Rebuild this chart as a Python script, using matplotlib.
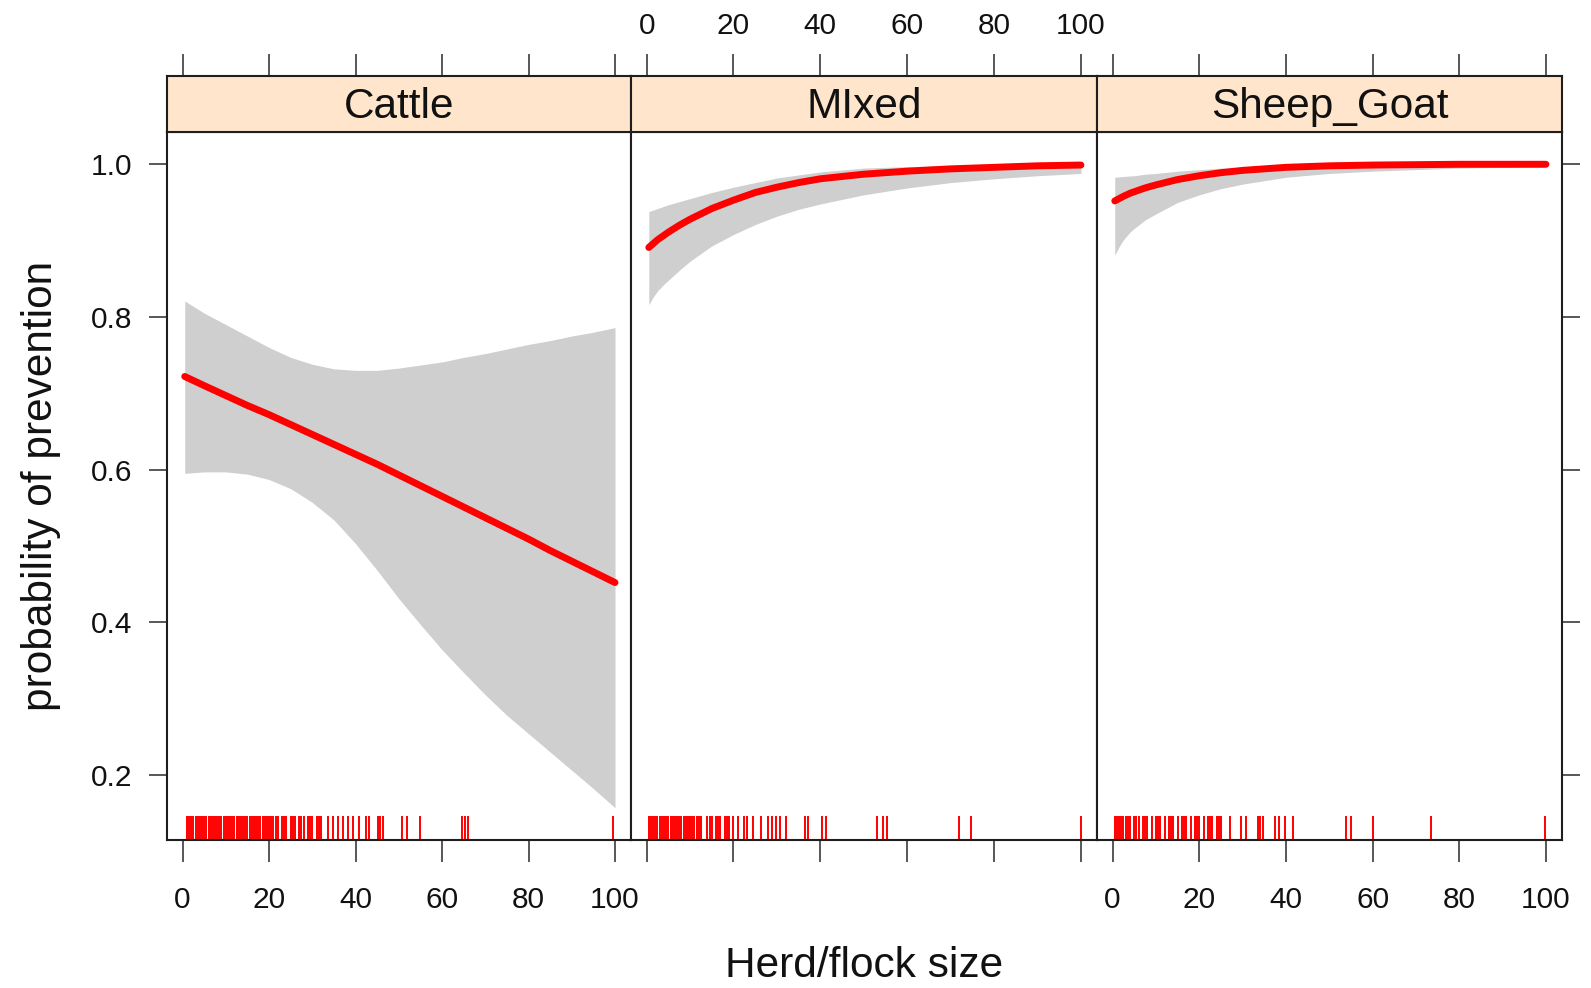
import matplotlib
matplotlib.use('Agg')
import matplotlib.pyplot as plt
import matplotlib.font_manager as fm

# ---------------- data ----------------
panels = ["Cattle", "MIxed", "Sheep_Goat"]
x_ticks = [0, 20, 40, 60, 80, 100]
y_ticks = [0.2, 0.4, 0.6, 0.8, 1.0]
y_tick_labels = ["0.2", "0.4", "0.6", "0.8", "1.0"]

cattle_x = [0.5, 5, 10, 15, 20, 25, 30, 35, 40, 45, 50, 55, 60, 65, 70, 75, 80,
            85, 90, 95, 100]
cattle_fit = [0.722, 0.710, 0.697, 0.684, 0.672, 0.659, 0.646, 0.633, 0.620,
              0.607, 0.593, 0.579, 0.565, 0.551, 0.537, 0.523, 0.509, 0.494,
              0.480, 0.466, 0.452]
cattle_upper = [0.821, 0.805, 0.790, 0.775, 0.760, 0.747, 0.738, 0.732, 0.730,
                0.730, 0.733, 0.737, 0.741, 0.747, 0.752, 0.758, 0.764, 0.769,
                0.775, 0.780, 0.786]
cattle_lower = [0.595, 0.597, 0.597, 0.594, 0.587, 0.575, 0.557, 0.534, 0.503,
                0.468, 0.431, 0.397, 0.364, 0.334, 0.305, 0.278, 0.254, 0.230,
                0.206, 0.182, 0.157]

mixed_x = [0.5, 1.5, 2.5, 4, 5, 7.5, 10, 15, 20, 25, 30, 35, 40, 50, 60, 70, 80, 90, 100]
mixed_fit = [0.891, 0.896, 0.901, 0.907, 0.911, 0.920, 0.928, 0.942, 0.953,
             0.963, 0.970, 0.976, 0.981, 0.987, 0.991, 0.994, 0.996, 0.998, 0.999]
mixed_upper = [0.938, 0.940, 0.942, 0.945, 0.947, 0.951, 0.955, 0.963, 0.970,
               0.976, 0.982, 0.986, 0.990, 0.995, 0.997, 0.998, 0.999, 1.000, 1.000]
mixed_lower = [0.816, 0.826, 0.834, 0.843, 0.848, 0.861, 0.873, 0.893, 0.908,
               0.921, 0.932, 0.941, 0.948, 0.960, 0.969, 0.976, 0.981, 0.985, 0.988]

sheep_x = [0.5, 1.5, 2.5, 4, 5, 7.5, 10, 15, 20, 25, 30, 40, 50, 60, 70, 80, 90, 100]
sheep_fit = [0.952, 0.955, 0.958, 0.962, 0.964, 0.969, 0.973, 0.980, 0.985,
             0.989, 0.992, 0.996, 0.998, 0.999, 0.9995, 1.000, 1.000, 1.000]
sheep_upper = [0.983, 0.9835, 0.984, 0.9847, 0.985, 0.987, 0.988, 0.991, 0.993,
               0.995, 0.996, 0.998, 0.999, 0.9995, 1.000, 1.000, 1.000, 1.000]
sheep_lower = [0.881, 0.892, 0.901, 0.911, 0.916, 0.927, 0.935, 0.950, 0.960,
               0.968, 0.974, 0.983, 0.988, 0.991, 0.993, 0.995, 0.996, 0.997]

cattle_rug = ([1, 1.5, 2, 2.5, 3, 3.5, 4, 4.5, 5, 5.5, 6, 6.5, 7, 7.5, 8, 8.5, 9, 9.5,
               10, 10.5, 11, 11.5, 12, 12.5, 13, 13.5, 14, 14.5, 15, 15.5, 16, 16.5,
               17, 17.5, 18, 18.5, 19, 19.5, 20, 20.5, 21, 21.5, 22,
               23, 23.5, 24, 25, 25.5, 26, 27, 27.5, 28, 29, 29.5, 30, 31, 31.5, 32]
              + [33.7, 34.9, 36.0, 37.2, 38.3, 39.3, 40.9, 42.4, 43.0,
                 45.3, 45.7, 46.4, 50.7, 51.8, 54.9, 64.6, 65.3, 66.1, 99.6])
mixed_rug = ([0.5, 1, 1.5, 2, 2.5, 3, 3.5, 4, 4.5, 5, 5.5, 6, 6.5, 7, 7.5, 8, 8.5, 9,
              9.5, 10, 10.5, 11, 11.5, 12, 12.5,
              14, 14.5, 15, 16, 16.5, 17, 18, 18.5, 19, 20, 21, 22.5, 23, 24.5]
             + [26.4, 28, 28.8, 29.9, 30.7, 32.2, 36.4, 37.2, 40.3, 41.4, 53.0,
                54.5, 55.3, 71.9, 74.6, 100])
sheep_rug = ([0.5, 1, 1.5, 2, 2.5, 3, 3.5, 4, 5, 5.5, 6, 7, 7.5, 8, 9, 10, 10.5, 11,
              12, 13, 13.5, 14, 15, 16, 16.5, 17, 18, 19, 19.5, 20, 21, 22, 22.5,
              23, 24, 24.5, 25]
             + [27, 29.6, 30.8, 33.5, 34.0, 34.7, 37.4, 38.5, 39.7,
                41.6, 53.9, 55.1, 60.0, 73.5, 99.7])

x_label = "Herd/flock size"
y_label = "probability of prevention"

# ---------------- style ----------------
names = {f.name for f in fm.fontManager.ttflist}
fam = [n for n in ['Liberation Sans Narrow', 'Arial Narrow', 'Liberation Sans']
       if n in names] + ['DejaVu Sans']
plt.rcParams['font.family'] = fam
narrow = fam[0] != 'Liberation Sans'

W, H = 1591, 988
fig = plt.figure(figsize=(W / 100, H / 100), dpi=100)


def box(x0, y0, x1, y1):
    return [x0 / W, 1 - y1 / H, (x1 - x0) / W, (y1 - y0) / H]


edges = [167, 631, 1097, 1562]
p_top, p_bot, s_top = 132, 840, 76
xlim = (-3.6, 103.7)
ylim = (0.1147, 1.0423)
frame_col = '#1e1e1e'
frame_lw = 1.5
tick_fs = 23 if narrow else 21.5
big_fs = 33 if narrow else 30.5
tick_kw = dict(width=1.1, color='#2a2a2a', labelsize=tick_fs, labelcolor='#111111')

data = [
    (cattle_x, cattle_fit, cattle_upper, cattle_lower, cattle_rug),
    (mixed_x, mixed_fit, mixed_upper, mixed_lower, mixed_rug),
    (sheep_x, sheep_fit, sheep_upper, sheep_lower, sheep_rug),
]

for i, (name, (xs, fit, up, lo, rug)) in enumerate(zip(panels, data)):
    ax = fig.add_axes(box(edges[i], p_top, edges[i + 1], p_bot))
    ax.set_xlim(*xlim)
    ax.set_ylim(*ylim)
    ax.fill_between(xs, lo, up, color='#CFCFCF', lw=0, zorder=1)
    ax.plot(xs, fit, color='#FF0000', lw=5, solid_capstyle='round',
            solid_joinstyle='round', zorder=3)
    ax.vlines(rug, 0, 0.034, transform=ax.get_xaxis_transform(),
              color='#FF0000', lw=1.4, zorder=2)
    for sp in ax.spines.values():
        sp.set_color(frame_col)
        sp.set_linewidth(frame_lw)

    ax.set_xticks(x_ticks)
    ax.set_xticklabels([str(t) for t in x_ticks])
    ax.tick_params(axis='x', direction='out', length=16, pad=17,
                   bottom=True, top=False, labelbottom=(i != 1), labeltop=False,
                   **tick_kw)
    ax.set_yticks(y_ticks)
    ax.set_yticklabels(y_tick_labels)
    ax.tick_params(axis='y', direction='out', length=13, pad=12,
                   left=(i == 0), right=(i == 2), labelleft=(i == 0),
                   labelright=False, **tick_kw)

    # strip
    sax = fig.add_axes(box(edges[i], s_top, edges[i + 1], p_top))
    sax.set_facecolor('#FFE5CC')
    sax.set_xlim(*xlim)
    sax.set_ylim(0, 1)
    sax.set_yticks([])
    sax.set_xticks(x_ticks)
    sax.set_xticklabels([str(t) for t in x_ticks])
    sax.tick_params(axis='x', direction='out', length=16, pad=10,
                    top=True, bottom=False, labeltop=(i == 1), labelbottom=False,
                    **tick_kw)
    for sp in sax.spines.values():
        sp.set_color(frame_col)
        sp.set_linewidth(frame_lw)
    sax.text(0.5, 0.45, name, transform=sax.transAxes, ha='center', va='center',
             fontsize=big_fs, color='#111111')

fig.text(864 / W, 1 - 966 / H, x_label, ha='center', va='center', fontsize=big_fs,
         color='#111111')
fig.text(41 / W, 1 - 486 / H, y_label, ha='center', va='center', rotation=90,
         fontsize=big_fs, color='#111111')

fig.savefig('out.png', dpi=100)
